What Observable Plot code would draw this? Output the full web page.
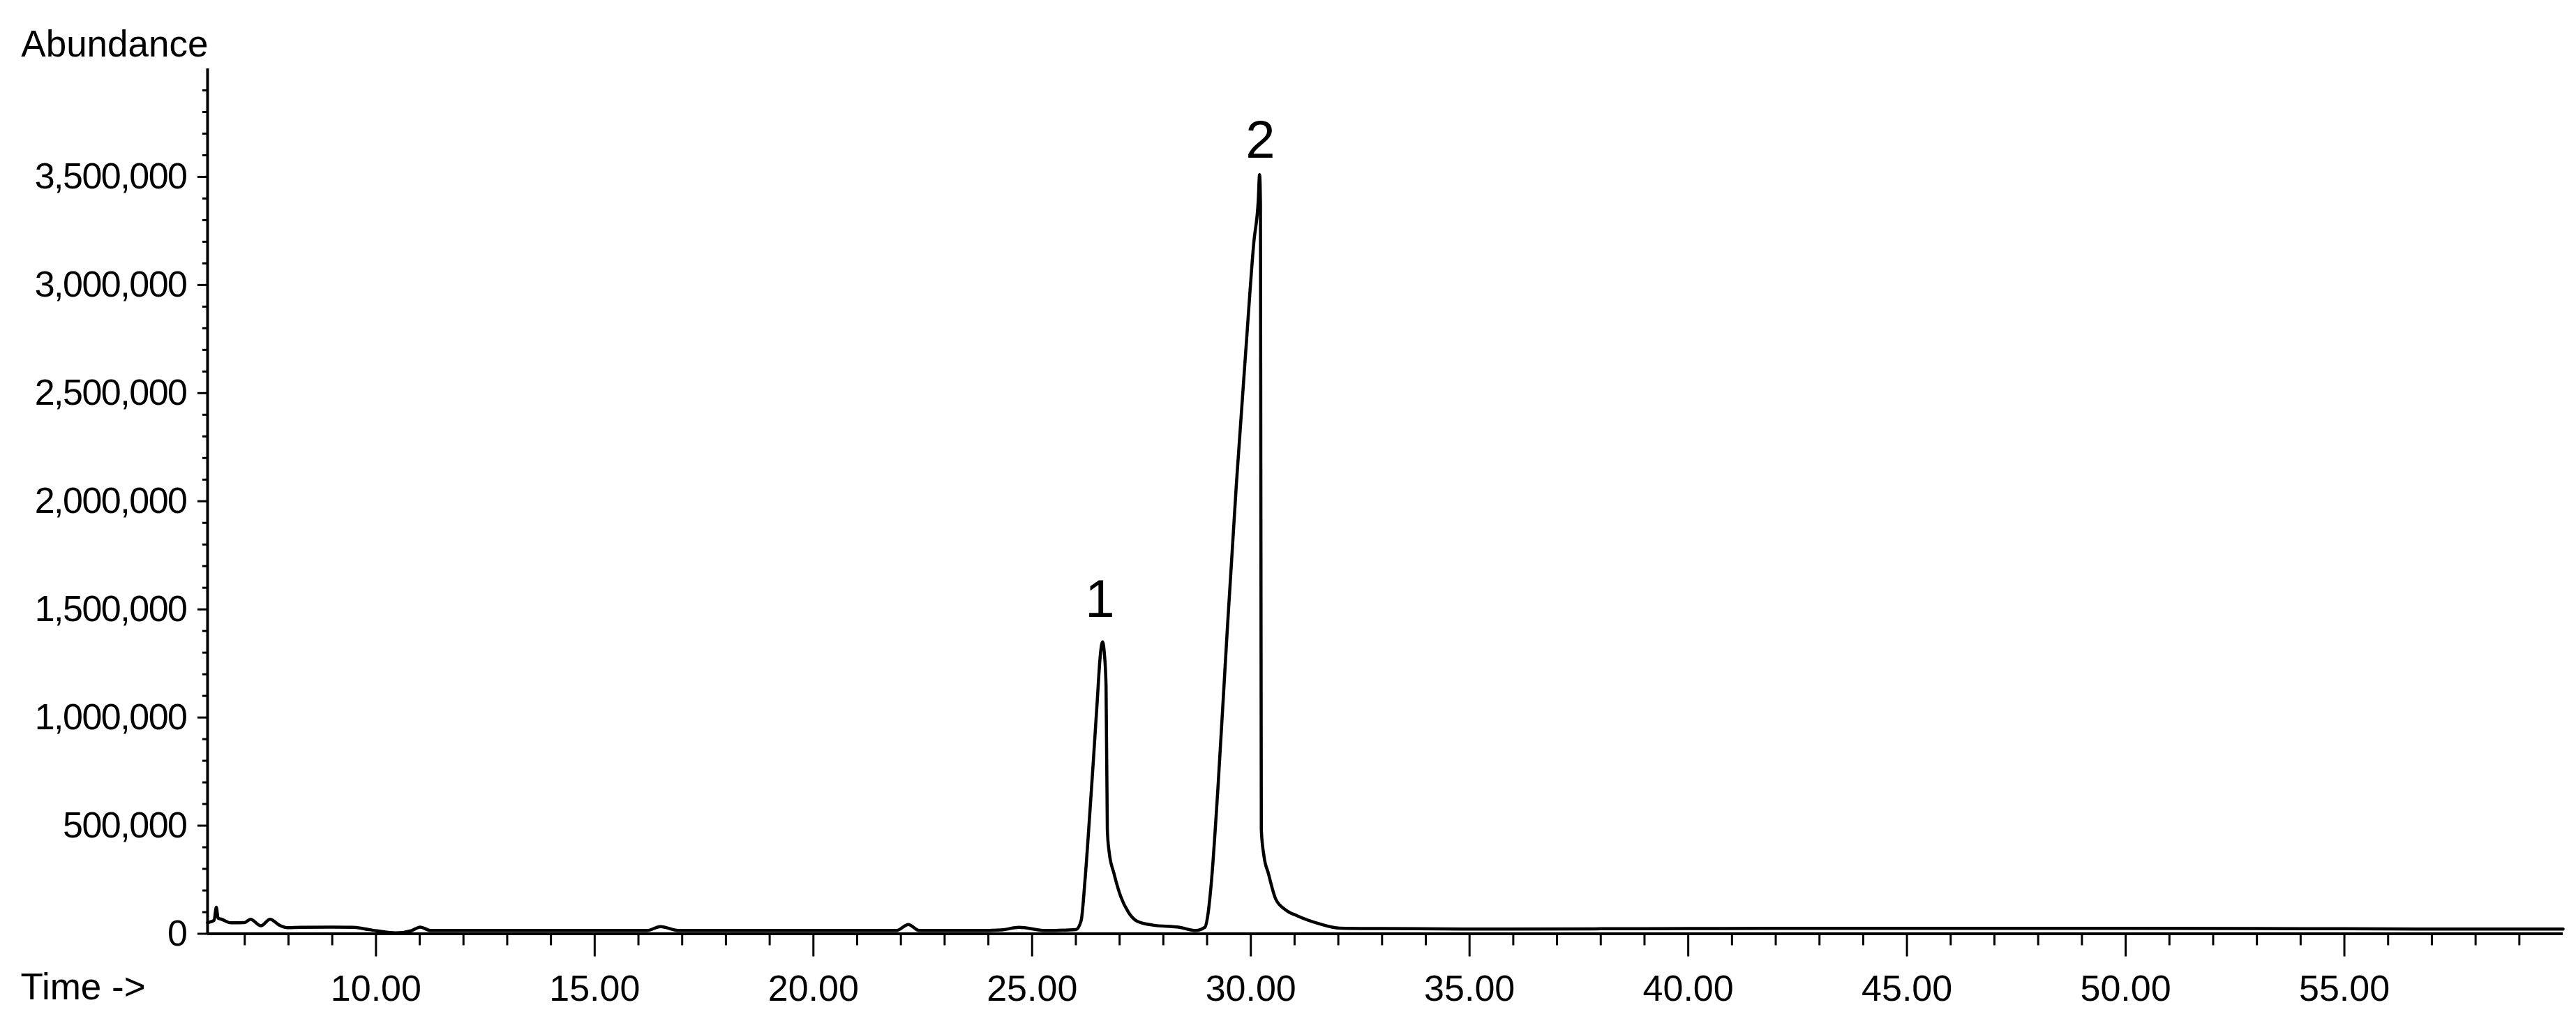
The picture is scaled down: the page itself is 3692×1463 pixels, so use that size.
<!DOCTYPE html>
<html>
<head>
<meta charset="utf-8">
<script src="https://cdn.jsdelivr.net/npm/d3@7"></script>
<script src="https://cdn.jsdelivr.net/npm/@observablehq/plot@0.6"></script>
<style>
  html, body { margin: 0; padding: 0; background: #fff; }
  #chart svg { display: block; }
  #chart g[aria-label="y-axis tick label"] text { letter-spacing: -1.5px; }
</style>
</head>
<body>
<div id="chart"></div>
<script>
// Retention time (min) of the sampled trace
const time = [
  6.15, 6.23, 6.30, 6.35, 6.39, 6.47, 6.68, 7.00, 7.13, 7.37, 7.58, 7.79, 7.98, 8.27,
  9.00, 9.48, 9.85, 10.46, 10.82, 11.01, 11.25, 12.00, 14.00, 16.20, 16.50, 16.93,
  19.00, 21.90, 22.17, 22.42, 23.73, 24.30, 24.70, 25.30, 26.00, 26.12, 26.21, 26.32, 26.40, 26.49,
  26.56, 26.61, 26.65, 26.69, 26.72, 26.76, 26.87, 27.03, 27.20, 27.40, 27.76, 28.37, 28.74, 28.95, 29.02, 29.09, 29.25,
  29.46, 29.67, 29.89, 30.07, 30.17, 30.20, 30.22, 30.24, 30.30, 30.40, 30.57, 30.80,
  31.06, 31.55, 32.03, 33.00, 35.00, 38.00, 40.00, 42.00, 45.00, 48.00, 50.00, 53.00,
  55.00, 57.00, 60.00
];
// Abundance at each time
const abundance = [
  51000, 56000, 62000, 123000, 72000, 67000, 51000, 52000, 67000, 37000, 67000, 40000, 28000, 30000,
  31000, 30000, 19000, 4000, 15000, 31000, 15000, 15000, 15000, 15000, 33000, 15000,
  15000, 15000, 43000, 15000, 15000, 18000, 30000, 15000, 19000, 60000, 250000, 560000, 800000, 1080000,
  1290000, 1350000, 1300000, 1150000, 480000, 380000, 280000, 170000, 100000, 58000, 40000, 30000, 15000, 30000, 90000, 220000, 680000,
  1400000, 2080000, 2710000, 3200000, 3390000, 3510000, 3380000, 480000, 360000, 280000, 160000, 110000,
  83000, 47000, 26000, 24000, 22000, 23000, 24000, 25000, 25000, 25000, 25000, 24000,
  23000, 22000, 22000
];
// Peak annotations
const peakLabels = ["1", "2"];
const peakLabelTime = [26.55, 30.22];
const peakLabelAbundance = [1466000, 3590000];

// Axis ticks
const xMajorTicks = [10, 15, 20, 25, 30, 35, 40, 45, 50, 55];
const xMinorTicks = d3.range(7, 60).filter(v => v % 5 !== 0);
const yMajorTicks = [0, 500000, 1000000, 1500000, 2000000, 2500000, 3000000, 3500000];
const yMinorTicks = d3.range(100000, 4000000, 100000).filter(v => v % 500000 !== 0);
const xDomain = [6.15, 60];
const yDomain = [0, 4000000];

const trace = time.map((t, i) => ({t, a: abundance[i]}));
const peaks = peakLabels.map((label, i) => ({label, t: peakLabelTime[i], a: peakLabelAbundance[i]}));

const chart = Plot.plot({
  width: 3692,
  height: 1463,
  marginLeft: 297,
  marginRight: 19,
  marginTop: 98,
  marginBottom: 125.5,
  x: {domain: xDomain},
  y: {domain: yDomain},
  style: {fontFamily: "'Liberation Sans', Arial, sans-serif", background: "white", color: "black"},
  marks: [
    Plot.axisY({ticks: yMinorTicks, tickSize: 7, tickFormat: () => "", strokeWidth: 3, label: null}),
    Plot.axisY({ticks: yMajorTicks, tickSize: 14, tickPadding: 16, tickFormat: d3.format(","), fontSize: 52, strokeWidth: 3, label: null}),
    Plot.axisX({ticks: xMinorTicks, tickSize: 17, tickFormat: () => "", strokeWidth: 3, label: null}),
    Plot.axisX({ticks: xMajorTicks, tickSize: 33, tickPadding: 26, tickFormat: d3.format(".2f"), fontSize: 52, strokeWidth: 3, label: null}),
    Plot.ruleX([xDomain[0]], {stroke: "black", strokeWidth: 4}),
    Plot.ruleY([0], {stroke: "black", strokeWidth: 4}),
    Plot.line(trace, {x: "t", y: "a", stroke: "black", strokeWidth: 4.5, strokeLinejoin: "round", curve: "monotone-x"}),
    Plot.text(peaks, {x: "t", y: "a", text: "label", fontSize: 76, textAnchor: "middle", lineAnchor: "bottom"}),
    Plot.text(["Abundance"], {frameAnchor: "top-left", text: d => d, textAnchor: "end", lineAnchor: "bottom", dx: 1, dy: -18, fontSize: 53}),
    Plot.text(["Time ->"], {frameAnchor: "bottom-left", text: d => d, textAnchor: "start", lineAnchor: "bottom", dx: -268, dy: 94, fontSize: 53})
  ]
});
document.getElementById("chart").appendChild(chart);
</script>
</body>
</html>
